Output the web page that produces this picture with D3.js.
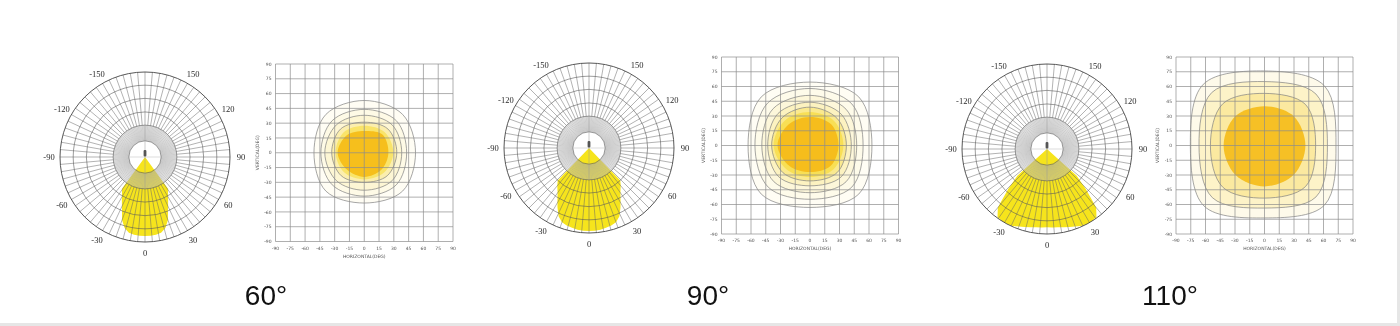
<!DOCTYPE html>
<html>
<head>
<meta charset="utf-8">
<script src="https://cdn.jsdelivr.net/npm/d3@7"></script>
<style>
  body { margin: 0; background: #fff; }
  svg { display: block; will-change: transform; }
</style>
</head>
<body>
<div id="chart"></div>
<script>

// polar diagram angle labels (deg, 0 = straight down)
var polarLabels = [-150, -120, -90, -60, -30, 0, 30, 60, 90, 120, 150];
// concentric rings of the polar grid, relative to the outer radius
var polarRings = [0.19, 0.375, 0.53, 0.69, 0.845, 1];

// beam outlines: relative intensity at each angle
var beamAngles = [-52, -48, -44, -40, -36, -32, -28, -24, -20, -16, -12, -8, -4, 0,
                  4, 8, 12, 16, 20, 24, 28, 32, 36, 40, 44, 48, 52];
var beam60  = [0, 0, 0, 0, 0.46, 0.51, 0.58, 0.665, 0.79, 0.87, 0.91, 0.925, 0.93, 0.93,
               0.93, 0.925, 0.91, 0.87, 0.79, 0.665, 0.58, 0.51, 0.46, 0, 0, 0, 0];
var beam90  = [0, 0, 0.53, 0.58, 0.63, 0.7, 0.79, 0.88, 0.93, 0.95, 0.96, 0.97, 0.975, 0.975,
               0.975, 0.97, 0.96, 0.95, 0.93, 0.88, 0.79, 0.7, 0.63, 0.58, 0.53, 0, 0];
var beam110 = [0, 0.47, 0.66, 0.9, 0.99, 1.0, 1.0, 0.99, 0.97, 0.955, 0.94, 0.93, 0.925, 0.92,
               0.925, 0.93, 0.94, 0.955, 0.97, 0.99, 1.0, 1.0, 0.99, 0.9, 0.66, 0.47, 0];

// isolux grid ticks (deg)
var gridTicks = [-90, -75, -60, -45, -30, -15, 0, 15, 30, 45, 60, 75, 90];

// contour radii (deg) in directions E, NE, N, NW, W, SW, S, SE, outermost first
var contourDirs = [0, 45, 90, 135, 180, 225, 270, 315];
var contours60 = [
  [52, 55, 53, 55, 51, 55, 51, 55],
  [43, 46, 44, 46, 44, 46, 44, 46],
  [38, 40, 38, 40, 40, 40, 38, 40],
  [33, 34, 31, 34, 33, 33, 30, 33],
  [29.5, 29.5, 27.5, 29.5, 29, 28.5, 27, 28.5],
  [24.5, 26, 22, 25, 27, 24.5, 24.5, 24.5]
];
var contours90 = [
  [63, 70, 64.5, 70, 63, 70, 63, 70],
  [54, 60, 58, 61, 56, 60, 54.7, 60],
  [47.5, 52, 51, 53, 49, 52, 48, 52],
  [42, 45, 44, 46, 43, 45, 41, 45],
  [37, 39, 39, 40, 39, 39, 36, 39],
  [34, 35, 34, 36, 37, 34, 32, 34],
  [29, 30.5, 29, 30.5, 33, 29.5, 27, 29.5]
];
var contours110 = [
  [72.7, 86, 75.8, 88, 75.4, 87, 73.7, 86],
  [64, 74, 65, 76, 66.6, 75, 63.6, 74],
  [52, 59, 53, 60, 55, 60, 53.5, 59],
  [41.6, 42, 40, 42, 41.6, 42, 41.6, 42]
];

// beam angle captions
var captions = ["60°", "90°", "110°"];

var W = 1400, H = 326;
var svg = d3.select("#chart").append("svg")
  .attr("width", W)
  .attr("height", H);

svg.append("rect").attr("width", W).attr("height", H).attr("fill", "#fff");
// thin grey frame at right and bottom
svg.append("rect").attr("x", 0).attr("y", 323).attr("width", W).attr("height", 3).attr("fill", "#e6e6e6");
svg.append("rect").attr("x", 1397).attr("y", 0).attr("width", 3).attr("height", H).attr("fill", "#e6e6e6");

function drawPolar(cx, cy, beam) {
  var g = svg.append("g").attr("transform", "translate(" + cx + "," + cy + ")");
  var r = d3.scaleLinear().domain([0, 1]).range([0, 85]);
  var rad = function(a) { return a * Math.PI / 180; };

  // beam
  var line = d3.lineRadial()
    .angle(function(d) { return Math.PI - rad(d[0]); })
    .radius(function(d) { return r(d[1]); })
    .curve(d3.curveLinearClosed);
  g.append("path")
    .datum(beamAngles.map(function(a, i) { return [a, beam[i]]; }))
    .attr("d", line)
    .attr("fill", "#f6e41c");

  // grey inner ring, laid over the beam
  g.append("path")
    .attr("d", d3.arc()({ innerRadius: r(polarRings[0]), outerRadius: r(polarRings[1]), startAngle: 0, endAngle: 2 * Math.PI }))
    .attr("fill", "#c4c4c4")
    .attr("opacity", 0.38);

  // dense light spokes inside the ring
  g.append("g").selectAll("line")
    .data(d3.range(0, 360, 2.5))
    .enter().append("line")
    .attr("x1", function(d) { return r(polarRings[0]) * Math.sin(rad(d)); })
    .attr("y1", function(d) { return r(polarRings[0]) * Math.cos(rad(d)); })
    .attr("x2", function(d) { return r(polarRings[1]) * Math.sin(rad(d)); })
    .attr("y2", function(d) { return r(polarRings[1]) * Math.cos(rad(d)); })
    .attr("stroke", "#9a9a9a")
    .attr("stroke-width", 0.35);

  // spokes every 5 deg
  g.append("g").selectAll("line")
    .data(d3.range(0, 360, 5))
    .enter().append("line")
    .attr("x1", function(d) { return r(polarRings[1]) * Math.sin(rad(d)); })
    .attr("y1", function(d) { return r(polarRings[1]) * Math.cos(rad(d)); })
    .attr("x2", function(d) { return r(1) * Math.sin(rad(d)); })
    .attr("y2", function(d) { return r(1) * Math.cos(rad(d)); })
    .attr("stroke", "#666")
    .attr("stroke-width", 0.5);

  // rings
  g.append("g").selectAll("circle")
    .data(polarRings)
    .enter().append("circle")
    .attr("r", function(d) { return r(d); })
    .attr("fill", "none")
    .attr("stroke", function(d) { return d == 1 ? "#444" : "#5a5a5a"; })
    .attr("stroke-width", function(d) { return d == 1 ? 0.9 : 0.6; });

  // cross hair in the centre
  g.append("line").attr("x1", 0).attr("x2", 0).attr("y1", -r(polarRings[1])).attr("y2", r(polarRings[1]))
    .attr("stroke", "#999").attr("stroke-width", 0.5);
  g.append("line").attr("y1", 0).attr("y2", 0).attr("x1", -r(polarRings[0])).attr("x2", r(polarRings[0]))
    .attr("stroke", "#bbb").attr("stroke-width", 0.5);

  // luminaire marker
  g.append("rect").attr("x", -1.4).attr("y", -7).attr("width", 2.8).attr("height", 6.5)
    .attr("rx", 1).attr("fill", "#555");

  // angle labels
  g.append("g").selectAll("text")
    .data(polarLabels)
    .enter().append("text")
    .attr("x", function(d) { return 96 * Math.sin(rad(d)); })
    .attr("y", function(d) { return 96 * Math.cos(rad(d)) + 3; })
    .attr("text-anchor", "middle")
    .attr("font-family", "Liberation Serif")
    .attr("font-size", 8.5)
    .attr("fill", "#2a2a2a")
    .text(function(d) { return d; });
}

function drawGrid(left, top, size, contours, fills, strokes) {
  var g = svg.append("g").attr("transform", "translate(" + left + "," + top + ")");
  var x = d3.scaleLinear().domain([-90, 90]).range([0, size]);
  var y = d3.scaleLinear().domain([-90, 90]).range([size, 0]);

  var clipId = "clip" + Math.round(left);
  g.append("clipPath").attr("id", clipId)
    .append("rect").attr("width", size).attr("height", size);

  var shape = d3.line()
    .x(function(d) { return x(d[1] * Math.cos(d[0] * Math.PI / 180)); })
    .y(function(d) { return y(d[1] * Math.sin(d[0] * Math.PI / 180)); })
    .curve(d3.curveCatmullRomClosed.alpha(0.5));

  var cg = g.append("g").attr("clip-path", "url(#" + clipId + ")");
  contours.forEach(function(radii, i) {
    cg.append("path")
      .datum(contourDirs.map(function(a, j) { return [a, radii[j]]; }))
      .attr("d", shape)
      .attr("fill", fills[i])
      .attr("stroke", strokes[i])
      .attr("stroke-width", 0.7);
  });

  // grid lines
  g.append("g").selectAll("line.v")
    .data(gridTicks)
    .enter().append("line")
    .attr("x1", function(d) { return x(d); })
    .attr("x2", function(d) { return x(d); })
    .attr("y1", 0).attr("y2", size)
    .attr("stroke", "#8c8c8c").attr("stroke-width", 0.7);
  g.append("g").selectAll("line.h")
    .data(gridTicks)
    .enter().append("line")
    .attr("y1", function(d) { return y(d); })
    .attr("y2", function(d) { return y(d); })
    .attr("x1", 0).attr("x2", size)
    .attr("stroke", "#8c8c8c").attr("stroke-width", 0.7);

  // tick labels
  g.append("g").selectAll("text")
    .data(gridTicks)
    .enter().append("text")
    .attr("x", function(d) { return x(d); })
    .attr("y", size + 8)
    .attr("text-anchor", "middle")
    .attr("font-family", "DejaVu Sans")
    .attr("font-size", 4.5)
    .attr("fill", "#555")
    .text(function(d) { return d; });
  g.append("g").selectAll("text")
    .data(gridTicks)
    .enter().append("text")
    .attr("x", -4)
    .attr("y", function(d) { return y(d) + 1.6; })
    .attr("text-anchor", "end")
    .attr("font-family", "DejaVu Sans")
    .attr("font-size", 4.5)
    .attr("fill", "#555")
    .text(function(d) { return d; });

  // axis titles
  g.append("text")
    .attr("x", size / 2)
    .attr("y", size + 16)
    .attr("text-anchor", "middle")
    .attr("font-family", "DejaVu Sans")
    .attr("font-size", 4.5)
    .attr("fill", "#555")
    .text("HORIZONTAL(DEG)");
  g.append("text")
    .attr("transform", "rotate(-90)")
    .attr("x", -size / 2)
    .attr("y", -17)
    .attr("text-anchor", "middle")
    .attr("font-family", "DejaVu Sans")
    .attr("font-size", 4.5)
    .attr("fill", "#555")
    .text("VERTICAL(DEG)");
}

drawPolar(145, 157, beam60);
drawPolar(589, 148, beam90);
drawPolar(1047, 149, beam110);

drawGrid(275.5, 64, 177.5, contours60,
  ["#fffdf4", "#fefae6", "#fdf6d4", "#fbeeae", "#f9e46a", "#f6bf1c"],
  ["#808080", "#808080", "#808080", "#808080", "none", "none"]);
drawGrid(721.5, 57, 177, contours90,
  ["#fffdf4", "#fefbea", "#fdf7da", "#fcf2c0", "#fae98f", "#f8df55", "#f6bd1c"],
  ["#808080", "#808080", "#808080", "#808080", "#808080", "none", "none"]);
drawGrid(1176, 57, 177, contours110,
  ["#fefaea", "#fdf3c8", "#fbe9a0", "#f6c025"],
  ["#808080", "#808080", "#808080", "none"]);

// beam angle captions
svg.append("g").selectAll("text")
  .data(captions)
  .enter().append("text")
  .attr("x", function(d, i) { return [266, 708, 1170][i]; })
  .attr("y", 305)
  .attr("text-anchor", "middle")
  .attr("font-family", "Liberation Sans")
  .attr("font-size", 28)
  .attr("fill", "#111")
  .text(function(d) { return d; });

</script>
</body>
</html>
